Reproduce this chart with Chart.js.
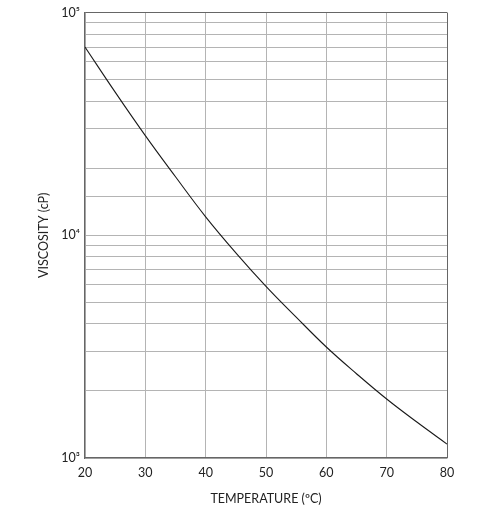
<!DOCTYPE html>
<html>
<head>
<meta charset="utf-8">
<script src="https://cdn.jsdelivr.net/npm/chart.js@4/dist/chart.umd.min.js"></script>
<style>
  html, body { margin: 0; padding: 0; background: #fff; }
  #wrap { width: 495px; height: 519px; }
</style>
</head>
<body>
<div id="wrap"><canvas id="viscosityChart"></canvas></div>
<script>
// Readings, every 5 degrees
const temperatures = [20, 25, 30, 35, 40, 45, 50, 55, 60, 65, 70, 75, 80];
const viscosity = [70000, 43900, 28000, 18300, 12100, 8340, 5900, 4290, 3150, 2390, 1840, 1450, 1155];
const yTickLabels = { 1000: "10³", 10000: "10⁴", 100000: "10⁵" };

const font = { family: "Lato, 'Open Sans', sans-serif", size: 12.5 };
const gridGray = "#b4b4b4";
const edgeGray = "#666666";

const ctx = document.getElementById("viscosityChart").getContext("2d");

new Chart(ctx, {
    type: "line",
    data: {
        datasets: [
            {
                label: "Viscosity",
                data: temperatures.map((t, i) => ({ x: t, y: viscosity[i] })),
                borderColor: "#1a1a1a",
                borderWidth: 1.1,
                pointRadius: 0,
                fill: false,
                tension: 0.4,
            },
        ],
    },
    options: {
        responsive: true,
        maintainAspectRatio: false,
        animation: false,
        layout: {
            padding: { top: 12, right: 48, bottom: 0, left: 0 },
        },
        plugins: {
            legend: { display: false },
            tooltip: { enabled: false },
        },
        scales: {
            x: {
                type: "linear",
                min: 20,
                max: 80,
                ticks: { stepSize: 10, color: "#222", font: font, padding: 7 },
                grid: {
                    drawTicks: false,
                    color: (c) => (c.tick && c.tick.value === 80 ? edgeGray : gridGray),
                },
                border: { color: edgeGray, width: 1.2 },
                title: {
                    display: true,
                    text: "TEMPERATURE (ºC)",
                    color: "#222",
                    font: font,
                    padding: { top: 4, bottom: 13 },
                },
                afterFit: (scale) => { scale.height = 61; },
            },
            y: {
                type: "logarithmic",
                min: 1000,
                max: 100000,
                ticks: {
                    autoSkip: false,
                    color: "#222",
                    font: font,
                    padding: 5,
                    callback: (value) => yTickLabels[value] || "",
                },
                grid: {
                    drawTicks: false,
                    color: (c) => (c.tick && c.tick.value === 100000 ? edgeGray : gridGray),
                },
                border: { color: edgeGray, width: 1.2 },
                title: {
                    display: true,
                    text: "VISCOSITY (cP)",
                    color: "#222",
                    font: font,
                    padding: { top: 36, bottom: 4 },
                },
                afterFit: (scale) => { scale.width = 85; },
            },
        },
    },
});
</script>
</body>
</html>
